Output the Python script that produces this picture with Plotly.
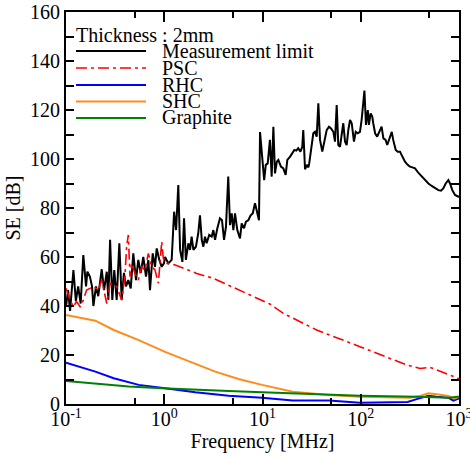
import plotly.graph_objects as go

# ---------------- data ----------------
meas_f = [0.1, 0.105, 0.110, 0.119, 0.126, 0.133, 0.141, 0.150, 0.160, 0.165, 0.175, 0.184, 0.190, 0.202,
          0.213, 0.231, 0.244, 0.260, 0.270, 0.281, 0.296, 0.310, 0.328, 0.349, 0.369, 0.389, 0.408, 0.431,
          0.456, 0.484, 0.516, 0.544, 0.576, 0.612, 0.652, 0.689, 0.716, 0.763, 0.805, 0.838, 0.891, 0.942,
          0.993, 1.02, 1.10, 1.19, 1.26, 1.32, 1.39, 1.45, 1.53, 1.59, 1.66, 1.76, 1.83, 1.90, 1.98, 2.10,
          2.22, 2.31, 2.41, 2.50, 2.60, 2.70, 2.87, 3.04, 3.16, 3.29, 3.47, 3.69, 3.87, 4.06, 4.25, 4.48,
          4.67, 4.86, 5.05, 5.25, 5.54, 5.90, 6.14, 6.48, 6.79, 7.17, 7.58, 7.95, 8.39, 8.73, 9.21, 9.44,
          9.96, 10.4, 10.8, 11.3, 11.9, 12.4, 12.9, 13.4, 14.0, 14.5, 15.4, 16.3, 17.2, 17.9, 19.1, 20.1,
          21.1, 22.1, 23.1, 24.3, 25.4, 26.0, 27.1, 28.2, 29.3, 29.9, 31.7, 32.9, 34.2, 35.6, 37.0, 38.5,
          40.6, 42.6, 45.0, 47.5, 49.8, 52.6, 54.7, 56.9, 59.1, 61.5, 64.0, 66.4, 69.2, 71.9, 74.7, 77.8,
          80.9, 85.3, 88.9, 93.1, 98.2, 102, 109, 113, 118, 121, 126, 131, 134, 140, 147, 153, 163, 170,
          179, 186, 195, 207, 214, 227, 238, 251, 261, 282, 300, 317, 335, 357, 385, 417, 451, 488, 528,
          570, 616, 656, 692, 732, 779, 810, 855, 911, 948, 1000]
meas_se = [39.7, 46.5, 38.0, 54.7, 42.0, 48.0, 41.0, 60.8, 48.0, 54.0, 52.0, 48.0, 40.0, 48.0,
           44.0, 55.0, 46.5, 54.0, 42.5, 67.0, 42.5, 54.7, 42.5, 65.6, 42.5, 53.5, 48.0, 50.6,
           47.2, 61.5, 50.6, 58.8, 53.5, 60.0, 52.0, 58.8, 46.5, 61.5, 56.0, 63.5, 58.8, 56.0,
           57.4, 60.0, 57.4, 58.8, 78.5, 71.0, 89.4, 62.9, 58.0, 75.8, 58.8, 65.6, 62.9, 68.3, 62.9, 64.2,
           69.7, 77.0, 67.0, 64.2, 68.3, 65.6, 69.0, 68.3, 71.0, 67.0, 71.7, 75.8, 75.0, 67.0, 72.4, 92.8,
           73.0, 77.8, 71.0, 77.8, 71.0, 67.6, 73.7, 71.7, 74.4, 75.0, 77.0, 77.8, 81.9, 78.5, 75.0, 111.0,
           99.6, 91.4, 97.6, 98.2, 107.8, 92.8, 113.2, 94.1, 98.9, 99.6, 96.9, 96.2, 93.5, 99.6, 101.0, 102.3,
           103.7, 103.4, 104.4, 103.0, 105.0, 111.8, 95.8, 97.6, 96.6, 98.2, 105.0, 110.5, 111.1, 109.1, 122.7, 107.8,
           103.0, 107.8, 111.8, 113.2, 112.5, 111.1, 107.1, 122.0, 105.7, 105.0, 110.5, 114.6, 107.1, 105.7, 111.8, 115.9,
           114.6, 107.1, 111.1, 110.5, 111.1, 115.9, 127.9, 113.9, 120.0, 113.9, 118.6, 117.3, 114.6, 110.5, 109.1, 110.5, 113.2, 108.4,
           107.8, 105.7, 108.4, 111.1, 107.8, 103.7, 103.0, 103.0, 101.6, 98.9, 97.6, 96.9, 96.6, 96.2, 94.4, 92.8, 91.4, 90.0, 89.0,
           88.0, 87.3, 87.1, 88.0, 90.0, 91.4, 90.0, 87.3, 85.3, 84.9, 84.5]

psc_f = [0.1, 0.110, 0.119, 0.128, 0.139, 0.150, 0.162, 0.190, 0.213, 0.231, 0.260, 0.281, 0.328, 0.369,
         0.398, 0.414, 0.431, 0.448, 0.466, 0.503, 0.544, 0.589, 0.636, 0.689, 0.746, 0.805, 0.871, 0.905,
         0.942, 0.978, 1.06, 1.14, 1.29, 2.14, 3.16, 7.46, 11.9, 16.3, 35.6, 98, 200, 294, 401, 507, 948, 1000]
psc_se = [47.2, 42.4, 39.7, 41.8, 39.7, 42.4, 46.5, 47.9, 46.5, 50.6, 41.0, 49.3, 47.9, 42.4,
          52.0, 64.2, 69.0, 52.0, 57.4, 53.3, 50.6, 56.0, 54.7, 61.5, 56.0, 54.7, 49.3, 58.8,
          66.3, 59.5, 57.4, 57.4, 56.7, 53.3, 51.3, 44.5, 40.8, 37.0, 30.2, 23.4, 18.5, 15.9, 14.5, 15.0, 10.7, 10.3]

rhc_f = [0.1, 0.199, 0.306, 0.55, 1.02, 2.07, 4.53, 9.9, 20.3, 47.5, 98, 300, 371, 487, 593, 778, 875, 948, 1000]
rhc_se = [16.9, 13.2, 10.5, 7.8, 6.4, 4.8, 3.4, 2.6, 1.4, 1.4, 0.5, 0.8, 2.0, 3.4, 3.0, 2.6, 1.4, 1.9, 2.3]

shc_f = [0.1, 0.199, 0.306, 0.55, 1.02, 1.91, 3.3, 5.7, 9.9, 20.3, 47.5, 98, 317, 401, 487, 593, 778, 910, 1000]
shc_se = [36.3, 34.0, 30.2, 26.1, 21.3, 16.9, 13.2, 10.2, 7.8, 5.0, 3.7, 3.0, 2.6, 3.3, 4.4, 4.0, 3.3, 2.3, 3.0]

gra_f = [0.1, 0.199, 0.435, 0.948, 2.07, 4.53, 9.9, 20.3, 98, 371, 810, 948, 1000]
gra_se = [9.4, 8.2, 7.1, 6.4, 5.7, 5.3, 4.8, 4.4, 3.4, 3.0, 2.6, 3.0, 3.0]

series_names = ["Measurement limit", "PSC", "RHC", "SHC", "Graphite"]
legend_title = "Thickness : 2mm"
x_tickvals = [0.1, 1, 10, 100, 1000]
x_ticktext = ["10<sup>-1</sup>", "10<sup>0</sup>", "10<sup>1</sup>", "10<sup>2</sup>", "10<sup>3</sup>"]
x_minor = [0.5, 5, 50, 500]

# ---------------- styles ----------------
FONT = "Liberation Serif, Times New Roman, serif"
FS = 20
styles = [
    dict(color="black", dash="solid", width=2),
    dict(color="#ff0000", dash="11px,4px,3px,4px", width=1.6),
    dict(color="#0000ff", dash="solid", width=2),
    dict(color="#ff8c1a", dash="solid", width=2),
    dict(color="#008000", dash="solid", width=2),
]
data = [(meas_f, meas_se), (psc_f, psc_se), (rhc_f, rhc_se), (shc_f, shc_se), (gra_f, gra_se)]

fig = go.Figure()
for name, (xs, ys), st in zip(series_names, data, styles):
    fig.add_trace(go.Scatter(x=xs, y=ys, mode="lines", name=name, line=st, showlegend=False))

# custom legend (inside plot, top-left)
row_y = [0.9005, 0.857, 0.814, 0.7717, 0.7296]
shapes = []
annotations = [dict(x=0.0254, y=0.941, xref="paper", yref="paper", text=legend_title, showarrow=False,
                    xanchor="left", yanchor="middle", xshift=-2,
                    font=dict(family=FONT, size=FS, color="black"))]
for name, st, yy in zip(series_names, styles, row_y):
    shapes.append(dict(type="line", xref="paper", yref="paper", x0=0.0254, x1=0.2036, y0=yy, y1=yy,
                       line=dict(color=st["color"], width=st["width"], dash=st["dash"])))
    annotations.append(dict(x=0.244, y=yy, xref="paper", yref="paper", text=name, showarrow=False,
                            xanchor="left", yanchor="middle", xshift=-2,
                            font=dict(family=FONT, size=FS, color="black")))

fig.update_layout(
    width=470, height=459,
    margin=dict(l=66, r=11, t=12, b=55),
    paper_bgcolor="white", plot_bgcolor="white",
    font=dict(family=FONT, size=FS, color="black"),
    shapes=shapes, annotations=annotations,
    showlegend=False,
)
fig.update_xaxes(
    type="log", range=[-1, 3], tickvals=x_tickvals, ticktext=x_ticktext,
    ticks="inside", ticklen=10, tickwidth=1.5, tickcolor="black",
    showline=True, linecolor="black", linewidth=2, mirror="ticks",
    showgrid=False, zeroline=False, ticklabelstandoff=-4, ticklabeloverflow="allow",
    minor=dict(tickvals=x_minor, ticks="inside", ticklen=6, tickwidth=1.5, tickcolor="black", showgrid=False),
    title=dict(text="Frequency [MHz]", font=dict(family=FONT, size=FS), standoff=2),
    tickfont=dict(family=FONT, size=FS), automargin=False,
)
fig.update_yaxes(
    range=[0, 160], dtick=20, tick0=0,
    ticks="inside", ticklen=8, tickwidth=1.5, tickcolor="black",
    showline=True, linecolor="black", linewidth=2, mirror="ticks",
    showgrid=False, zeroline=False, ticklabeloverflow="allow",
    minor=dict(dtick=10, ticks="inside", ticklen=8, tickwidth=1.5, tickcolor="black", showgrid=False),
    title=dict(text="SE [dB]", font=dict(family=FONT, size=FS), standoff=4),
    tickfont=dict(family=FONT, size=FS), automargin=False,
)

# remove the default 8px page margin so the figure fills the window exactly; hide the mode bar
fig.write_html("out.html", config={"displayModeBar": False},
               post_script="document.body.style.margin='0';")
